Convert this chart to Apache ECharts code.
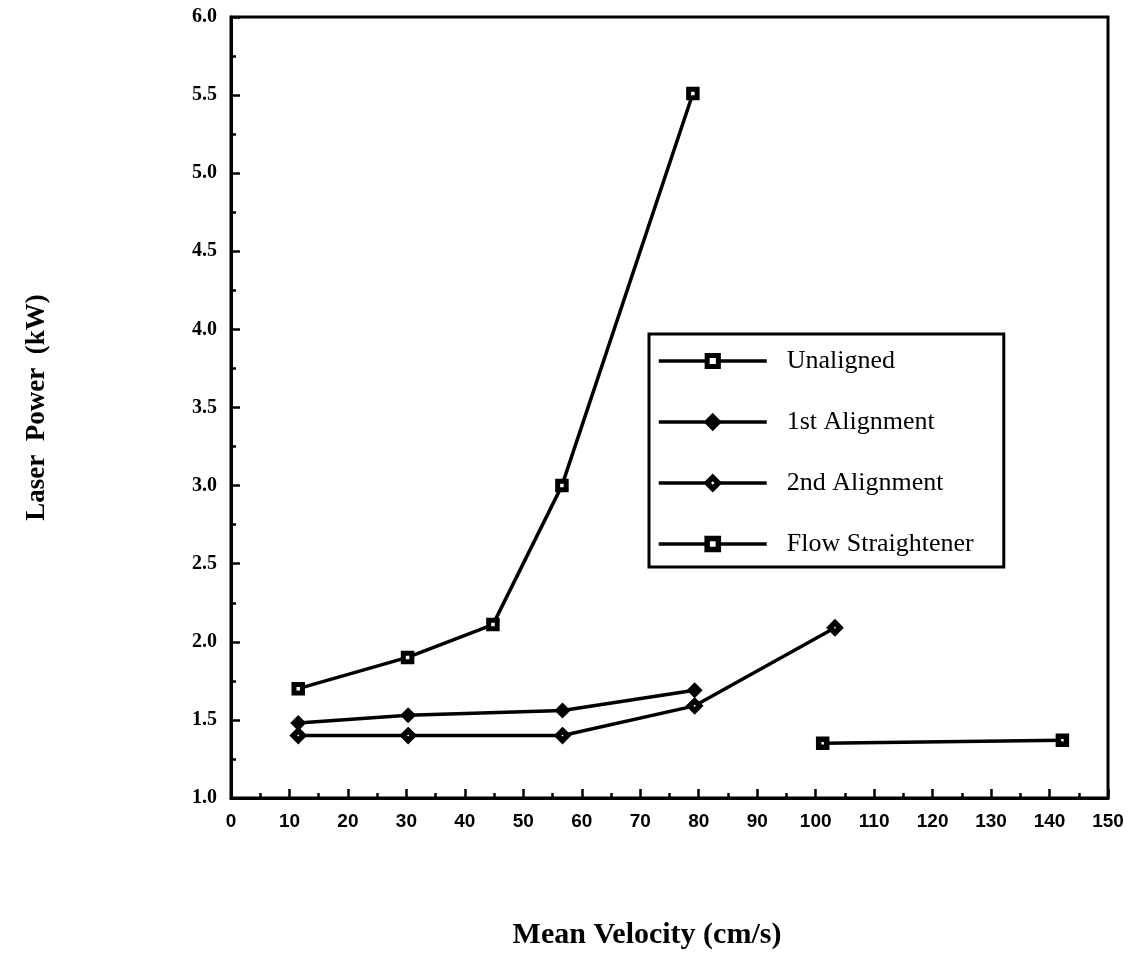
<!DOCTYPE html>
<html>
<head>
<meta charset="utf-8">
<script src="https://cdn.jsdelivr.net/npm/echarts@6/dist/echarts.min.js"></script>
<style>
  html, body { margin: 0; padding: 0; background: #fff; }
  #chart { width: 1147px; height: 957px; }
</style>
</head>
<body>
<div id="chart"></div>
<script>
// Laser power against mean flow velocity, four alignment configurations
const unaligned = [[11.5, 1.70], [30.2, 1.90], [44.8, 2.11], [56.6, 3.00], [79.0, 5.51]];
const firstAlignment = [[11.5, 1.48], [30.3, 1.53], [56.7, 1.56], [79.3, 1.69]];
const secondAlignment = [[11.5, 1.40], [30.3, 1.40], [56.7, 1.40], [79.3, 1.59], [103.3, 2.09]];
const flowStraightener = [[101.2, 1.35], [142.2, 1.37]];

const seriesNames = ['Unaligned', '1st Alignment', '2nd Alignment', 'Flow Straightener'];
const xTitle = 'Mean Velocity (cm/s)';
const yTitle = 'Laser  Power  (kW)';

const black = '#000';
const serif = '"Liberation Serif", "DejaVu Serif", serif';
const sans = '"Liberation Sans", "DejaVu Sans", sans-serif';

// marker styles: [symbol, size, fill, border]
const markers = [
  ['rect', 8.5, '#fff', 5],
  ['diamond', 16, black, 0],
  ['diamond', 10, '#fff', 5.5],
  ['rect', 8, '#fff', 5.5]
];
const legendBorders = [5, 5, 5.5, 5.5];
const seriesData = [unaligned, firstAlignment, secondAlignment, flowStraightener];

const series = seriesNames.map((name, i) => {
  const m = markers[i];
  return {
    name: name,
    type: 'line',
    data: seriesData[i],
    symbol: m[0],
    symbolSize: m[1],
    showAllSymbol: true,
    lineStyle: { color: black, width: 3.5 },
    itemStyle: { color: m[2], borderColor: black, borderWidth: m[3] },
    emphasis: { disabled: true },
    z: 3
  };
});

// legend entries keep the line + marker glyph, with heavier strokes
const legendData = seriesNames.map((name, i) => ({
  name: name,
  itemStyle: { color: markers[i][2], borderColor: black, borderWidth: legendBorders[i] },
  lineStyle: { color: black, width: 3.5 }
}));

const chart = echarts.init(document.getElementById('chart'), null, { renderer: 'canvas' });
chart.setOption({
  animation: false,
  backgroundColor: '#fff',
  grid: {
    left: 231, right: 39, top: 17, bottom: 159,
    show: true, borderColor: black, borderWidth: 3, backgroundColor: 'transparent'
  },
  xAxis: {
    type: 'value', min: 0, max: 150, interval: 10,
    name: xTitle, nameLocation: 'middle', nameGap: 122,
    nameTextStyle: {
      fontFamily: serif, fontWeight: 'bold', fontSize: 30, color: black,
      padding: [0, 45, 0, 0]
    },
    axisLine: { show: true, lineStyle: { color: black, width: 3 } },
    axisTick: { show: true, inside: true, length: 9, lineStyle: { color: black, width: 2.5 } },
    minorTick: { show: true, splitNumber: 2, length: 5, lineStyle: { color: black, width: 2.5 } },
    splitLine: { show: false },
    axisLabel: { fontFamily: sans, fontWeight: 'bold', fontSize: 19, color: black, margin: 14 }
  },
  yAxis: {
    type: 'value', min: 1, max: 6, interval: 0.5,
    name: yTitle, nameLocation: 'middle', nameGap: 180, nameRotate: 90,
    nameTextStyle: { fontFamily: serif, fontWeight: 'bold', fontSize: 27, color: black },
    axisLine: { show: true, lineStyle: { color: black, width: 3 } },
    axisTick: { show: true, inside: true, length: 9, lineStyle: { color: black, width: 2.5 } },
    minorTick: { show: true, splitNumber: 2, length: 5, lineStyle: { color: black, width: 2.5 } },
    splitLine: { show: false },
    axisLabel: {
      fontFamily: serif, fontWeight: 'bold', fontSize: 20, color: black, margin: 14,
      formatter: v => v.toFixed(1)
    }
  },
  legend: {
    data: legendData,
    orient: 'vertical',
    left: 649, top: 334,
    backgroundColor: '#fff',
    borderColor: black, borderWidth: 3,
    padding: [14, 30, 10, 8],
    itemWidth: 108, itemHeight: 14, itemGap: 35,
    textStyle: {
      fontFamily: serif, fontSize: 26, lineHeight: 25, color: black,
      padding: [0, 0, 0, 15]
    },
    selectedMode: false
  },
  series: series
});
</script>
</body>
</html>
